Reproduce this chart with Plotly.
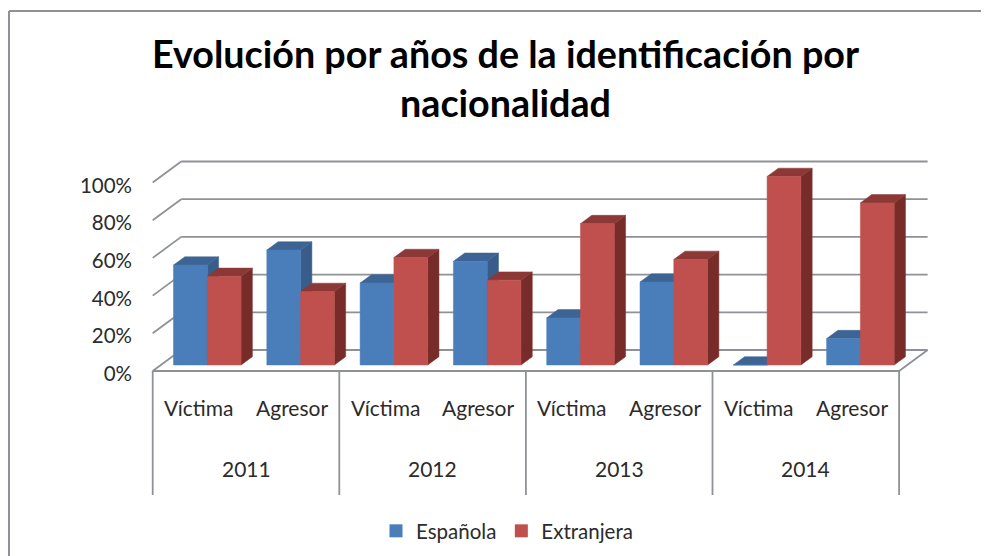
import plotly.graph_objects as go

TITLE = "Evolución por años de la identificación por<br>nacionalidad"
YEARS = ["2011", "2012", "2013", "2014"]
ROLES = ["Víctima", "Agresor"]
SERIES_NAMES = ["Española", "Extranjera"]
ESPANOLA = [53, 61, 43.5, 55, 25, 44, 0, 14]
EXTRANJERA = [47, 39, 57, 45, 75, 56, 100, 86]
Y_TICKS = [0, 20, 40, 60, 80, 100]
Y_TICK_LABELS = ["0%", "20%", "40%", "60%", "80%", "100%"]

PAGE_MARGIN = 8  # the page body keeps the browser's default margin
W, H = 989 - PAGE_MARGIN, 556 - PAGE_MARGIN
X0_PX, X_UNIT = 152.7 - PAGE_MARGIN, 93.3
Y0_PX, Y_UNIT = 371.0 - PAGE_MARGIN, 1.885
WALL_DX, WALL_DY = 28.5 / X_UNIT, 21 / Y_UNIT
BAR_DX, BAR_DY = 11.3 / X_UNIT, 8.3 / Y_UNIT
BAR_BASE = 6 / Y_UNIT
BAR_W = 0.362
BAR_START = 0.223

FRONT = ["#4a7ebb", "#c0504d"]
SIDE = ["#385d8a", "#772c2a"]
TOP = ["#3c6494", "#8c3836"]
GRID = "#8e9296"
TEXT = "#2b2b2b"
FONT = "Lato"


def px_x(p):
    return (p - PAGE_MARGIN) / W


def px_y(p):
    return 1 - (p - PAGE_MARGIN) / H


def val_y(p):
    return (Y0_PX - (p - PAGE_MARGIN)) / Y_UNIT


def poly(xs, ys, color):
    return go.Scatter(x=xs, y=ys, mode="lines", fill="toself", fillcolor=color,
                      line=dict(color=color, width=0.5), showlegend=False,
                      hoverinfo="skip", cliponaxis=False)


fig = go.Figure()

for i in range(len(ESPANOLA)):
    for s, values in enumerate([ESPANOLA, EXTRANJERA]):
        v = values[i]
        l = i + BAR_START + s * BAR_W
        r = l + BAR_W
        b = BAR_BASE
        t = b + v
        fig.add_trace(poly([r, r + BAR_DX, r + BAR_DX, r, r],
                           [b, b + BAR_DY, t + BAR_DY, t, b], SIDE[s]))
        fig.add_trace(poly([l, l + BAR_DX, r + BAR_DX, r, l],
                           [t, t + BAR_DY, t + BAR_DY, t, t], TOP[s]))
        fig.add_trace(poly([l, r, r, l, l], [b, b, t, t, b], FRONT[s]))

for s, name in enumerate(SERIES_NAMES):
    fig.add_trace(go.Scatter(x=[None], y=[None], mode="markers", name=name,
                             marker=dict(symbol="square", size=13, color=FRONT[s])))

shapes = []


def seg(x0, y0, x1, y1, width=1.8):
    shapes.append(dict(type="line", xref="x", yref="y", x0=x0, y0=y0, x1=x1, y1=y1,
                       line=dict(color=GRID, width=width), layer="below"))


n = len(ESPANOLA)
for v in Y_TICKS:
    seg(0, v, WALL_DX, v + WALL_DY)
    seg(WALL_DX, v + WALL_DY, n + WALL_DX, v + WALL_DY)
seg(n, 0, n + WALL_DX, WALL_DY)
seg(0, 0, n, 0, 2)
for k in range(len(YEARS) + 1):
    seg(2 * k, 0, 2 * k, val_y(495))

annotations = []
for k, year in enumerate(YEARS):
    annotations.append(dict(x=2 * k + 1, y=val_y(468), text=year, showarrow=False,
                            xref="x", yref="y", font=dict(family=FONT, size=21, color=TEXT)))
    for j, role in enumerate(ROLES):
        annotations.append(dict(x=2 * k + j + 0.49, y=val_y(407), text=role,
                                showarrow=False, xref="x", yref="y",
                                font=dict(family=FONT, size=21, color=TEXT)))

# chart frame (left and top edges)
shapes.append(dict(type="line", xref="paper", yref="paper", x0=px_x(9), x1=px_x(9), y0=0, y1=px_y(11),
                   line=dict(color=GRID, width=2)))
shapes.append(dict(type="line", xref="paper", yref="paper", x0=px_x(9), x1=1, y0=px_y(11), y1=px_y(11),
                   line=dict(color=GRID, width=2)))

fig.update_layout(
    width=W, height=H, margin=dict(l=0, r=0, t=0, b=0),
    paper_bgcolor="white", plot_bgcolor="white",
    title=dict(text=TITLE, x=px_x(505.5), xanchor="center", y=px_y(68), yanchor="middle",
               font=dict(family=FONT, size=37.7, color="#000000", weight="bold")),
    xaxis=dict(visible=False, range=[-X0_PX / X_UNIT, (W - X0_PX) / X_UNIT], fixedrange=True),
    yaxis=dict(range=[(Y0_PX - H) / Y_UNIT, Y0_PX / Y_UNIT], tickvals=Y_TICKS, ticktext=Y_TICK_LABELS,
               showgrid=False, zeroline=False, showline=False, ticks="",
               anchor="free", position=px_x(132), side="left", ticklabelshift=3,
               tickfont=dict(family=FONT, size=20.5, color=TEXT), fixedrange=True),
    legend=dict(orientation="h", x=px_x(507), xanchor="center", y=px_y(531), yanchor="middle",
                font=dict(family=FONT, size=20.5, color=TEXT), bgcolor="rgba(0,0,0,0)"),
    shapes=shapes, annotations=annotations,
)

fig.write_html("out.html")
